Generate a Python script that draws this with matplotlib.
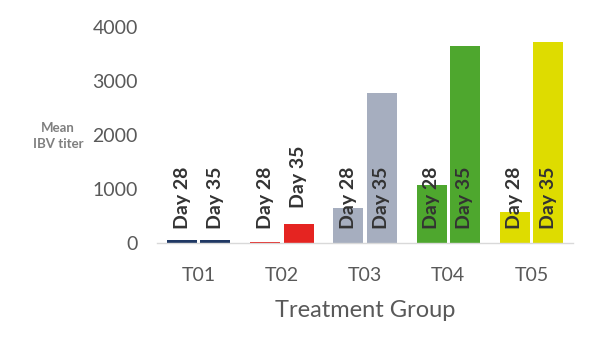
import numpy as np
import matplotlib.pyplot as plt

groups = ["T01", "T02", "T03", "T04", "T05"]
day28 = [50, 20, 640, 1080, 570]
day35 = [50, 350, 2780, 3640, 3720]
colors = ["#1F3864", "#E52421", "#A6AEBF", "#4EA72E", "#DEDC00"]
series_labels = ["Day 28", "Day 35"]

plt.rcParams["font.family"] = ["Lato", "DejaVu Sans"]

fig = plt.figure(figsize=(6, 3.5), dpi=100)
ax = fig.add_axes([0.262, 0.306, 0.693, 0.617])

x = np.arange(len(groups))
width = 0.36
offset = 0.2

ax.bar(x - offset, day28, width, color=colors)
ax.bar(x + offset, day35, width, color=colors)

# labels sit near the base; the T02 Day 35 one was pushed above its bar
label_base = 250
for i, xi in enumerate(x):
    for dx, lab, vals in zip((-offset, offset), series_labels, (day28, day35)):
        y = label_base
        if lab == "Day 35" and groups[i] == "T02":
            y = vals[i] + 300
        ax.text(xi + dx, y, lab, rotation=90, ha="center", va="bottom",
                fontsize=14, fontweight="bold", color="#333333")

ax.set_xlim(-0.5, len(groups) - 0.5)
ax.set_ylim(0, 4000)
ax.set_yticks([0, 1000, 2000, 3000, 4000])
ax.set_xticks(x)
ax.set_xticklabels(groups)
ax.tick_params(axis="both", length=0, labelsize=14, colors="#595959")
ax.tick_params(axis="y", pad=14)
ax.tick_params(axis="x", pad=17)

for side in ("top", "right", "left"):
    ax.spines[side].set_visible(False)
ax.spines["bottom"].set_color("#D9D9D9")
ax.spines["bottom"].set_linewidth(1)

ax.set_xlabel("Treatment Group", fontsize=17, color="#595959", labelpad=12)
fig.text(0.097, 0.612, "Mean\nIBV titer", ha="center", va="center",
         fontsize=9.5, fontweight="bold", color="#7F7F7F", linespacing=1.35)

fig.savefig("out.png", dpi=100)
